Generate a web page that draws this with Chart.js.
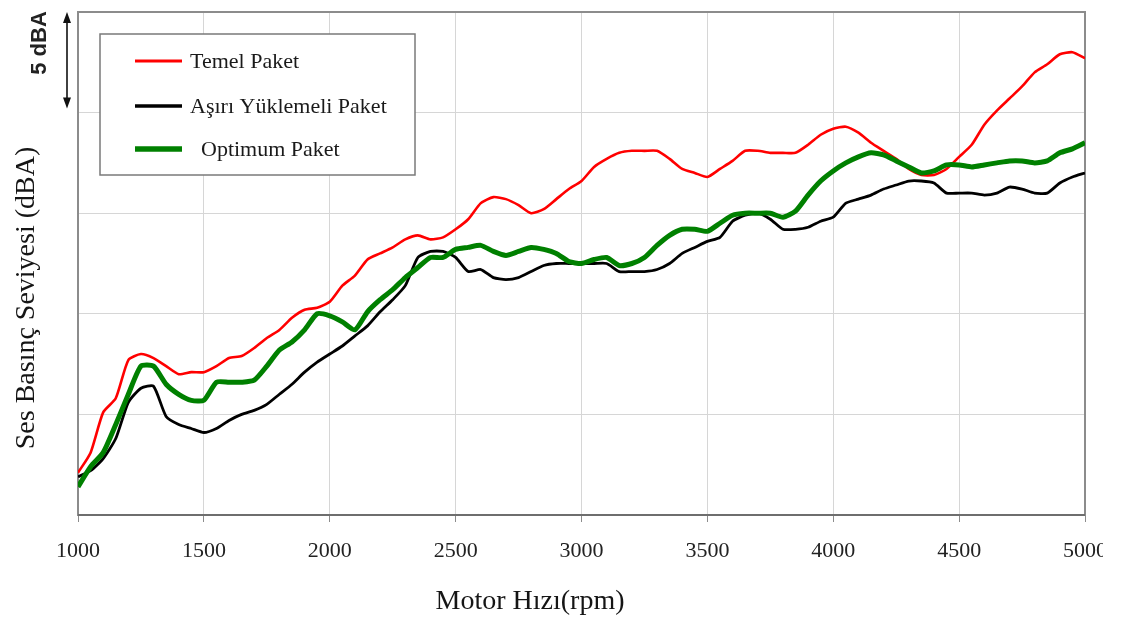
<!DOCTYPE html>
<html><head><meta charset="utf-8">
<script src="https://cdn.jsdelivr.net/npm/chart.js@4/dist/chart.umd.min.js"></script>
<style>
html,body{margin:0;padding:0;background:#fff;}
#wrap{width:1103px;height:624px;overflow:hidden;position:relative;background:#fff;}
canvas{display:block;}
</style></head><body>
<div id="wrap"><canvas id="c" width="1130" height="624"></canvas></div>
<script>
// Motor speed samples (rpm)
const rpm = [1000,1050,1100,1150,1200,1250,1300,1350,1400,1450,
             1500,1550,1600,1650,1700,1750,1800,1850,1900,1950,
             2000,2050,2100,2150,2200,2250,2300,2350,2400,2450,
             2500,2550,2600,2650,2700,2750,2800,2850,2900,2950,
             3000,3050,3100,3150,3200,3250,3300,3350,3400,3450,
             3500,3550,3600,3650,3700,3750,3800,3850,3900,3950,
             4000,4050,4100,4150,4200,4250,4300,4350,4400,4450,
             4500,4550,4600,4650,4700,4750,4800,4850,4900,4950,5000];

// Relative sound pressure level (dBA, arbitrary offset; grid = 5 dBA)
const temelPaket = [2.1,3.1,5.1,5.8,7.7,8.0,7.8,7.4,7.0,7.1,
                    7.1,7.4,7.8,7.9,8.3,8.8,9.2,9.8,10.2,10.3,
                    10.6,11.4,11.9,12.7,13.0,13.3,13.7,13.9,13.7,13.8,
                    14.2,14.7,15.5,15.8,15.7,15.4,15.0,15.2,15.7,16.2,
                    16.6,17.3,17.7,18.0,18.1,18.1,18.1,17.7,17.2,17.0,
                    16.8,17.2,17.6,18.1,18.1,18.0,18.0,18.0,18.4,18.9,
                    19.2,19.3,19.0,18.5,18.1,17.7,17.2,16.9,16.9,17.2,
                    17.8,18.4,19.4,20.1,20.7,21.3,22.0,22.4,22.9,23.0,22.7];

const asiriYuklemeliPaket = [1.9,2.2,2.8,3.8,5.6,6.3,6.4,4.9,4.5,4.3,
                    4.1,4.3,4.7,5.0,5.2,5.5,6.0,6.5,7.1,7.6,
                    8.0,8.4,8.9,9.4,10.1,10.7,11.4,12.8,13.1,13.1,
                    12.8,12.1,12.2,11.8,11.7,11.8,12.1,12.4,12.5,12.5,
                    12.5,12.5,12.5,12.1,12.1,12.1,12.2,12.5,13.0,13.3,
                    13.6,13.8,14.6,14.9,15.0,14.7,14.2,14.2,14.3,14.6,
                    14.8,15.5,15.7,15.9,16.2,16.4,16.6,16.6,16.5,16.0,
                    16.0,16.0,15.9,16.0,16.3,16.2,16.0,16.0,16.5,16.8,17.0];

const optimumPaket = [1.4,2.4,3.1,4.5,6.0,7.4,7.4,6.5,6.0,5.7,
                    5.7,6.6,6.6,6.6,6.7,7.4,8.2,8.6,9.2,10.0,
                    9.9,9.6,9.2,10.1,10.7,11.2,11.8,12.3,12.8,12.8,
                    13.2,13.3,13.4,13.1,12.9,13.1,13.3,13.2,13.0,12.6,
                    12.5,12.7,12.8,12.4,12.5,12.8,13.4,13.9,14.2,14.2,
                    14.1,14.5,14.9,15.0,15.0,15.0,14.8,15.1,15.9,16.6,
                    17.1,17.5,17.8,18.0,17.9,17.6,17.3,17.0,17.1,17.4,
                    17.4,17.3,17.4,17.5,17.6,17.6,17.5,17.6,18.0,18.2,18.5];

const seriesLabels = ['Temel Paket','Aşırı Yüklemeli Paket','Optimum Paket'];
const seriesColors = ['#ff0000','#000000','#008000'];
const xTitle = 'Motor Hızı(rpm)';
const yTitle = 'Ses Basınç Seviyesi (dBA)';
const scaleNote = '5 dBA';

const toPoints = vals => rpm.map((r, i) => ({x: r, y: vals[i]}));

const decor = {
  id: 'decor',
  beforeDatasetsDraw(chart) {
    const {ctx, chartArea: a} = chart;
    ctx.save();
    ctx.strokeStyle = '#8c8c8c';
    ctx.lineWidth = 2;
    ctx.strokeRect(a.left, a.top, a.right - a.left, a.bottom - a.top);
    ctx.strokeStyle = '#6e6e6e';
    ctx.beginPath(); ctx.moveTo(a.left, a.bottom); ctx.lineTo(a.right, a.bottom); ctx.stroke();
    ctx.restore();
  },
  afterDraw(chart) {
    const {ctx, scales} = chart;
    const ys = scales.y;
    ctx.save();
    // legend box
    ctx.fillStyle = '#fff';
    ctx.fillRect(100, 34, 315, 141);
    ctx.strokeStyle = '#7a7a7a';
    ctx.lineWidth = 1.5;
    ctx.strokeRect(100, 34, 315, 141);
    const rows = [61, 106, 149];
    const widths = [3, 3.5, 5.5];
    ctx.font = '22px "Liberation Serif", "Times New Roman", serif';
    ctx.textBaseline = 'middle';
    ctx.textAlign = 'left';
    chart.data.datasets.forEach((ds, i) => {
      ctx.strokeStyle = ds.borderColor;
      ctx.lineWidth = widths[i];
      ctx.beginPath(); ctx.moveTo(135, rows[i]); ctx.lineTo(182, rows[i]); ctx.stroke();
      ctx.fillStyle = '#1a1a1a';
      ctx.fillText(ds.label, i === 2 ? 201 : 190, rows[i] + 1);
    });
    // x title
    ctx.font = '28px "Liberation Serif", "Times New Roman", serif';
    ctx.textAlign = 'center';
    ctx.textBaseline = 'alphabetic';
    ctx.fillStyle = '#151515';
    ctx.fillText(xTitle, 530, 609);
    // y title
    ctx.save();
    ctx.translate(34, 298);
    ctx.rotate(-Math.PI / 2);
    ctx.fillText(yTitle, 0, 0);
    ctx.restore();
    // 5 dBA note
    ctx.save();
    ctx.translate(46, 43);
    ctx.rotate(-Math.PI / 2);
    ctx.font = 'bold 22px "Liberation Sans", Arial, sans-serif';
    ctx.fillStyle = '#222';
    ctx.fillText(scaleNote, 0, 0);
    ctx.restore();
    // double arrow spanning one grid step
    const y1 = ys.getPixelForValue(25), y2 = ys.getPixelForValue(20) - 4;
    const ax = 67;
    ctx.strokeStyle = '#111'; ctx.fillStyle = '#111'; ctx.lineWidth = 1.6;
    ctx.beginPath(); ctx.moveTo(ax, y1 + 6); ctx.lineTo(ax, y2 - 6); ctx.stroke();
    ctx.beginPath(); ctx.moveTo(ax, y1); ctx.lineTo(ax - 4, y1 + 11); ctx.lineTo(ax + 4, y1 + 11); ctx.closePath(); ctx.fill();
    ctx.beginPath(); ctx.moveTo(ax, y2); ctx.lineTo(ax - 4, y2 - 11); ctx.lineTo(ax + 4, y2 - 11); ctx.closePath(); ctx.fill();
    ctx.restore();
  }
};

const seriesValues = [temelPaket, asiriYuklemeliPaket, optimumPaket];
const lineWidths = [2.6, 2.8, 5];

new Chart(document.getElementById('c'), {
  type: 'line',
  data: {
    datasets: seriesValues.map((vals, i) => ({
      label: seriesLabels[i],
      data: toPoints(vals),
      borderColor: seriesColors[i],
      backgroundColor: seriesColors[i],
      borderWidth: lineWidths[i],
      pointRadius: 0,
      tension: 0.2,
      fill: false,
      order: i === 2 ? 0 : 1
    }))
  },
  options: {
    responsive: false,
    animation: false,
    layout: {padding: {top: 12, right: 45, left: 0, bottom: 0}},
    plugins: {legend: {display: false}, tooltip: {enabled: false}},
    scales: {
      x: {
        type: 'linear', min: 1000, max: 5000,
        afterFit(s) { s.height = 109; },
        ticks: {stepSize: 500, padding: 16, color: '#222',
                callback: v => String(v),
                font: {family: '"Liberation Serif", "Times New Roman", serif', size: 22}},
        grid: {color: '#d6d6d6', lineWidth: 1, drawTicks: true, tickLength: 7, tickColor: '#8c8c8c'},
        border: {display: false}
      },
      y: {
        min: 0, max: 25,
        afterFit(s) { s.width = 78; },
        ticks: {display: false, stepSize: 5},
        grid: {color: '#d6d6d6', lineWidth: 1, drawTicks: false},
        border: {display: false}
      }
    }
  },
  plugins: [decor]
});
</script>
</body></html>
